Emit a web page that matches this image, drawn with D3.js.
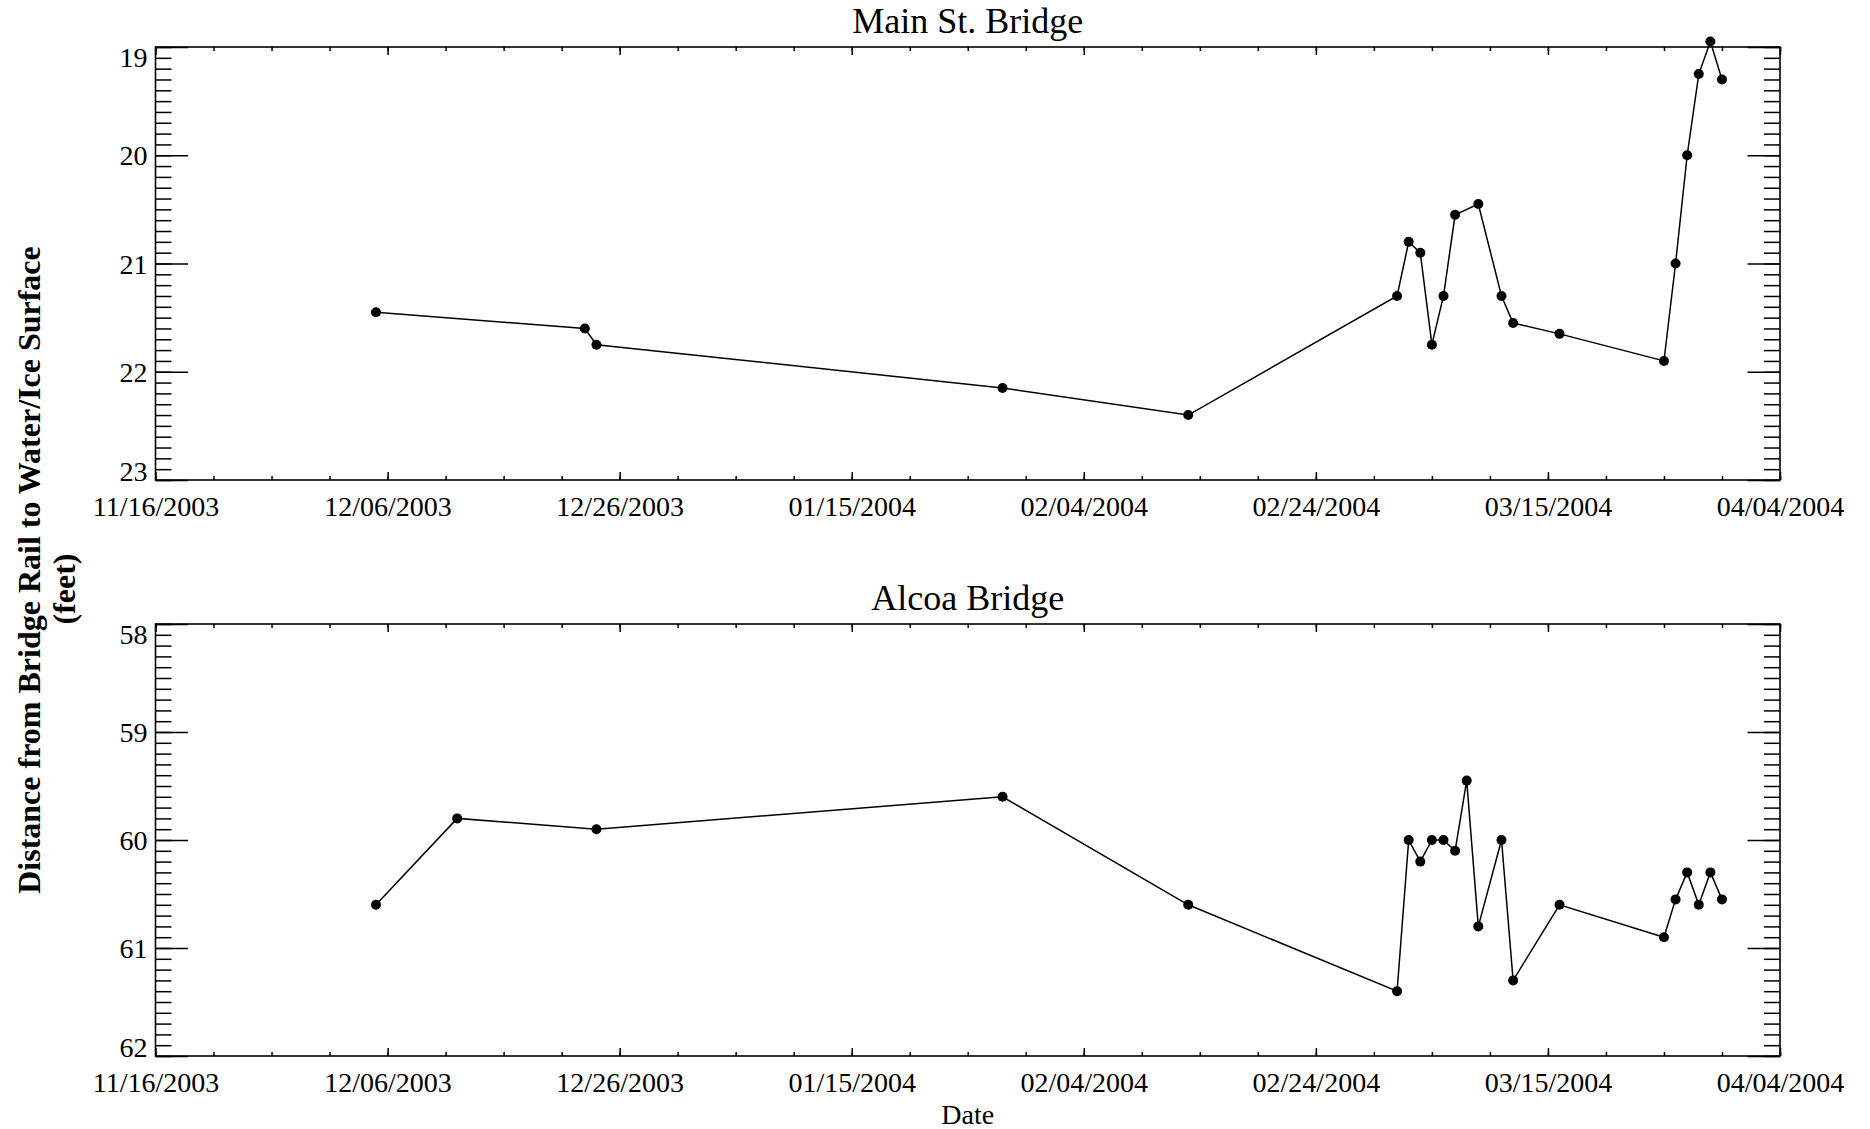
<!DOCTYPE html>
<html>
<head>
<meta charset="utf-8">
<script src="https://cdn.jsdelivr.net/npm/d3@7"></script>
<style>
body { margin: 0; background: #fff; }
svg, svg text { font-family: "Liberation Serif", "Times New Roman", serif; }
</style>
</head>
<body>
<div class="chart"></div>
<script>
// Main St. Bridge readings (feet from rail to surface)
var mainDates = ["12/05/2003", "12/23/2003", "12/24/2003", "01/28/2004", "02/13/2004",
    "03/02/2004", "03/03/2004", "03/04/2004", "03/05/2004", "03/06/2004", "03/07/2004",
    "03/09/2004", "03/11/2004", "03/12/2004", "03/16/2004", "03/25/2004", "03/26/2004",
    "03/27/2004", "03/28/2004", "03/29/2004", "03/30/2004"];
var mainDist = [21.45, 21.60, 21.75, 22.15, 22.40,
    21.30, 20.80, 20.90, 21.75, 21.30, 20.55,
    20.45, 21.30, 21.55, 21.65, 21.90, 21.00,
    20.00, 19.25, 18.95, 19.30];

// Alcoa Bridge readings
var alcoaDates = ["12/05/2003", "12/12/2003", "12/24/2003", "01/28/2004", "02/13/2004",
    "03/02/2004", "03/03/2004", "03/04/2004", "03/05/2004", "03/06/2004", "03/07/2004",
    "03/08/2004", "03/09/2004", "03/11/2004", "03/12/2004", "03/16/2004", "03/25/2004",
    "03/26/2004", "03/27/2004", "03/28/2004", "03/29/2004", "03/30/2004"];
var alcoaDist = [60.60, 59.80, 59.90, 59.60, 60.60,
    61.40, 60.00, 60.20, 60.00, 60.00, 60.10,
    59.45, 60.80, 60.00, 61.30, 60.60, 60.90,
    60.55, 60.30, 60.60, 60.30, 60.55];

// tick labels
var dateTicks = ["11/16/2003", "12/06/2003", "12/26/2003", "01/15/2004",
    "02/04/2004", "02/24/2004", "03/15/2004", "04/04/2004"];
var mainTicks = [19, 20, 21, 22, 23];
var alcoaTicks = [58, 59, 60, 61, 62];

var W = 1870, H = 1129;
var left = 155.5, right = 1780;

var parse = d3.utcParse("%m/%d/%Y");
var fmt = d3.utcFormat("%m/%d/%Y");

var svg = d3.select(".chart").append("svg")
    .attr("width", W)
    .attr("height", H);

var tickDates = dateTicks.map(parse);
var x = d3.scaleUtc()
    .domain([tickDates[0], tickDates[tickDates.length - 1]])
    .range([left, right]);

// minor ticks every 5 days
var minorDates = d3.utcDay.range(tickDates[0], d3.utcDay.offset(tickDates[tickDates.length - 1], 1), 5);

function drawPanel(title, dates, dist, yTicks, top, height, dateLabel){
    var bottom = top + height;
    var g = svg.append("g");

    var y = d3.scaleLinear()
        .domain([yTicks[0], yTicks[yTicks.length - 1]])
        .range([top, bottom]);

    var yMinor = d3.range(0, (yTicks.length - 1) * 10 + 1).map(function(i){
        return yTicks[0] + i * 0.1;
    });

    // frame
    g.append("rect")
        .attr("x", left)
        .attr("y", top)
        .attr("width", right - left)
        .attr("height", height)
        .attr("fill", "none")
        .attr("stroke", "#000")
        .attr("stroke-width", 1.6);

    // x ticks (bottom and top, pointing inward)
    var xb = g.append("g").attr("transform", "translate(0," + bottom + ")")
        .call(d3.axisBottom(x).tickValues(minorDates).tickSizeInner(-4).tickSizeOuter(0).tickFormat(""));
    var xbM = g.append("g").attr("transform", "translate(0," + bottom + ")")
        .call(d3.axisBottom(x).tickValues(tickDates).tickSizeInner(-8).tickSizeOuter(0)
            .tickPadding(16).tickFormat(fmt));
    var xt = g.append("g").attr("transform", "translate(0," + top + ")")
        .call(d3.axisTop(x).tickValues(minorDates).tickSizeInner(-4).tickSizeOuter(0).tickFormat(""));
    var xtM = g.append("g").attr("transform", "translate(0," + top + ")")
        .call(d3.axisTop(x).tickValues(tickDates).tickSizeInner(-8).tickSizeOuter(0).tickFormat(""));

    // y ticks (left and right, pointing inward)
    var yl = g.append("g").attr("transform", "translate(" + left + ",0)")
        .call(d3.axisLeft(y).tickValues(yMinor).tickSizeInner(-16).tickSizeOuter(0).tickFormat(""));
    var ylM = g.append("g").attr("transform", "translate(" + left + ",0)")
        .call(d3.axisLeft(y).tickValues(yTicks).tickSizeInner(-32.5).tickSizeOuter(0)
            .tickPadding(8).tickFormat(d3.format("d")));
    var yr = g.append("g").attr("transform", "translate(" + right + ",0)")
        .call(d3.axisRight(y).tickValues(yMinor).tickSizeInner(-16).tickSizeOuter(0).tickFormat(""));
    var yrM = g.append("g").attr("transform", "translate(" + right + ",0)")
        .call(d3.axisRight(y).tickValues(yTicks).tickSizeInner(-32.5).tickSizeOuter(0).tickFormat(""));

    [xb, xbM, xt, xtM, yl, ylM, yr, yrM].forEach(function(a){
        a.attr("font-family", null).attr("font-size", null);
        a.select(".domain").remove();
        a.selectAll("line").attr("stroke", "#000").attr("stroke-width", 1.5);
        a.selectAll("text")
            .attr("fill", "#000")
            .attr("font-size", 28);
    });

    // keep end labels inside the frame, like the original
    ylM.selectAll("text")
        .attr("dy", function(d){
            var ty = y(d);
            var c = Math.max(top + 9.5, Math.min(bottom - 9.5, ty));
            return (c - ty + 9.5) + "px";
        });

    // title
    g.append("text")
        .text(title)
        .attr("x", (left + right) / 2)
        .attr("y", top - 14)
        .attr("text-anchor", "middle")
        .attr("font-size", 36);

    var pts = dates.map(function(d, i){ return [parse(d), dist[i]]; });

    var line = d3.line()
        .x(function(d){ return x(d[0]); })
        .y(function(d){ return y(d[1]); });

    g.append("path")
        .datum(pts)
        .attr("d", line)
        .attr("fill", "none")
        .attr("stroke", "#000")
        .attr("stroke-width", 1.5);

    g.selectAll("circle.pt")
        .data(pts)
        .enter().append("circle")
        .attr("class", "pt")
        .attr("cx", function(d){ return x(d[0]); })
        .attr("cy", function(d){ return y(d[1]); })
        .attr("r", 5)
        .attr("fill", "#000");

    if (dateLabel){
        g.append("text")
            .text("Date")
            .attr("x", (left + right) / 2)
            .attr("y", bottom + 68)
            .attr("text-anchor", "middle")
            .attr("font-size", 28);
    }
}

drawPanel("Main St. Bridge", mainDates, mainDist, mainTicks, 47, 433, false);
drawPanel("Alcoa Bridge", alcoaDates, alcoaDist, alcoaTicks, 624, 432, true);

// shared y axis title
svg.append("text")
    .attr("transform", "translate(40,570) rotate(-90)")
    .attr("text-anchor", "middle")
    .attr("font-size", 32)
    .attr("font-weight", "bold")
    .text("Distance from Bridge Rail to Water/Ice Surface");
svg.append("text")
    .attr("transform", "translate(75,589) rotate(-90)")
    .attr("text-anchor", "middle")
    .attr("font-size", 32)
    .attr("font-weight", "bold")
    .text("(feet)");
</script>
</body>
</html>
